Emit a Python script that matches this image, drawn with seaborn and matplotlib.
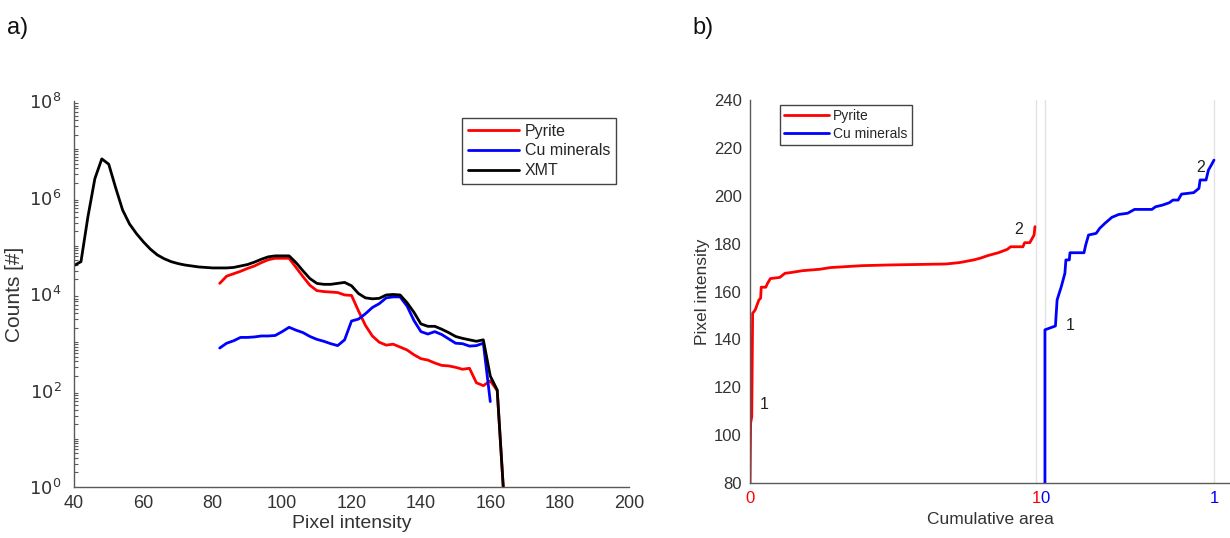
import numpy as np
import pandas as pd
import matplotlib
matplotlib.use("Agg")
import matplotlib.pyplot as plt
import seaborn as sns
from matplotlib.ticker import FixedLocator, NullFormatter

# ---------------- data (panel a) ----------------
xmt_intensity = [40, 42, 44, 46, 48, 50, 52, 54, 56, 58, 60, 62, 64, 66, 68, 70, 72, 74, 76, 78,
                 80, 82, 84, 86, 88, 90, 92, 94, 96, 98, 100, 102, 104, 106, 108, 110, 112, 114,
                 116, 118, 120, 122, 124, 126, 128, 130, 132, 134, 136, 138, 140, 142, 144, 146,
                 148, 150, 152, 154, 156, 158, 160, 162, 164]
xmt_log10 = [4.59, 4.67, 5.60, 6.39, 6.80, 6.69, 6.20, 5.74, 5.45, 5.25, 5.08, 4.93, 4.81, 4.73,
             4.67, 4.63, 4.60, 4.58, 4.56, 4.55, 4.54, 4.54, 4.54, 4.55, 4.58, 4.61, 4.66, 4.72,
             4.77, 4.79, 4.79, 4.79, 4.65, 4.48, 4.32, 4.22, 4.20, 4.20, 4.22, 4.24, 4.17, 4.01,
             3.92, 3.90, 3.91, 3.98, 3.99, 3.98, 3.82, 3.62, 3.38, 3.33, 3.33, 3.27, 3.20, 3.12,
             3.08, 3.05, 3.02, 3.05, 2.30, 2.01, -0.3]

pyrite_intensity = [82, 84, 86, 88, 90, 92, 94, 96, 98, 100, 102, 104, 106, 108, 110, 112, 114,
                    116, 118, 120, 122, 124, 126, 128, 130, 132, 134, 136, 138, 140, 142, 144,
                    146, 148, 150, 152, 154, 156, 158, 160, 162, 164]
pyrite_log10 = [4.22, 4.37, 4.42, 4.47, 4.53, 4.58, 4.65, 4.71, 4.74, 4.74, 4.74, 4.55, 4.36,
                4.18, 4.07, 4.05, 4.04, 4.03, 3.98, 3.97, 3.65, 3.35, 3.13, 3.00, 2.94, 2.96,
                2.90, 2.84, 2.74, 2.66, 2.63, 2.57, 2.52, 2.51, 2.48, 2.44, 2.46, 2.16, 2.10,
                2.20, 2.00, -0.3]

cu_intensity = [82, 84, 86, 88, 90, 92, 94, 96, 98, 100, 102, 104, 106, 108, 110, 112, 114, 116,
                118, 120, 122, 124, 126, 128, 130, 132, 134, 136, 138, 140, 142, 144, 146, 148,
                150, 152, 154, 156, 158, 160]
cu_log10 = [2.88, 2.98, 3.03, 3.10, 3.10, 3.11, 3.13, 3.13, 3.14, 3.22, 3.31, 3.25, 3.20, 3.12,
            3.06, 3.02, 2.97, 2.93, 3.05, 3.44, 3.48, 3.59, 3.72, 3.80, 3.92, 3.94, 3.94, 3.75,
            3.45, 3.22, 3.17, 3.22, 3.16, 3.07, 2.98, 2.97, 2.92, 2.93, 2.98, 1.77]

# ---------------- data (panel b) ----------------
pyrite_cum_area = [0.0, 0.002, 0.006, 0.009, 0.018, 0.031, 0.037, 0.039, 0.055, 0.061, 0.071,
                   0.104, 0.122, 0.147, 0.183, 0.244, 0.281, 0.391, 0.489, 0.685, 0.733, 0.782,
                   0.807, 0.831, 0.868, 0.899, 0.911, 0.954, 0.960, 0.978, 0.993, 0.996]
pyrite_cum_int = [80, 105, 107.8, 150.9, 152.3, 156.5, 157.2, 161.8, 161.8, 163.4, 165.4, 165.9,
                  167.6, 168.0, 168.7, 169.3, 170.0, 170.8, 171.1, 171.5, 172.1, 173.2, 174.0,
                  175.0, 176.2, 177.6, 178.7, 178.7, 180.4, 180.4, 183.6, 187.1]

cu_cum_area = [0.0, 0.0, 0.062, 0.072, 0.097, 0.118, 0.124, 0.144, 0.148, 0.231, 0.241, 0.258,
               0.303, 0.324, 0.355, 0.396, 0.437, 0.489, 0.530, 0.633, 0.654, 0.695, 0.736,
               0.757, 0.788, 0.808, 0.880, 0.911, 0.918, 0.953, 0.967, 0.984, 1.0]
cu_cum_int = [80, 144.0, 145.6, 156.5, 162.1, 167.6, 173.2, 173.2, 176.2, 176.2, 179.4, 183.6,
              184.3, 186.4, 188.5, 191.0, 192.2, 192.7, 194.3, 194.3, 195.4, 196.1, 197.1,
              198.2, 198.2, 200.7, 201.3, 203.1, 206.6, 206.6, 210.7, 212.8, 214.9]

labels_a = ["Pyrite", "Cu minerals", "XMT"]
labels_b = ["Pyrite", "Cu minerals"]

# ---------------- style ----------------
sns.set_theme(style="white")
plt.rcParams['font.family'] = ['Liberation Sans', 'DejaVu Sans']
AX_COL = "#5a5a5a"
TXT_COL = "#333333"
RED, BLUE, BLACK = "#ff0000", "#0000ff", "#000000"

fig = plt.figure(figsize=(12.30, 5.38), dpi=100)
ax1 = fig.add_axes([0.0602, 0.0948, 0.4512, 0.7175])
ax2 = fig.add_axes([0.6098, 0.1022, 0.3902, 0.7119])

# ---------------- panel a ----------------
df_p = pd.DataFrame({"x": pyrite_intensity, "y": np.power(10.0, pyrite_log10)})
df_c = pd.DataFrame({"x": cu_intensity, "y": np.power(10.0, cu_log10)})
df_x = pd.DataFrame({"x": xmt_intensity, "y": np.power(10.0, xmt_log10)})
lw = 2.0
sns.lineplot(data=df_p, x="x", y="y", ax=ax1, color=RED, lw=lw, label=labels_a[0],
             sort=False, estimator=None)
sns.lineplot(data=df_c, x="x", y="y", ax=ax1, color=BLUE, lw=lw, label=labels_a[1],
             sort=False, estimator=None)
sns.lineplot(data=df_x, x="x", y="y", ax=ax1, color=BLACK, lw=lw, label=labels_a[2],
             sort=False, estimator=None)
ax1.set_yscale("log")
ax1.set_xlim(40, 200)
ax1.set_ylim(1, 1e8)
ax1.set_xticks(np.arange(40, 201, 20))
ax1.yaxis.set_major_locator(FixedLocator([10.0 ** k for k in range(0, 9, 2)]))
ax1.set_yticklabels([r"$10^{%d}$" % k for k in range(0, 9, 2)])
minors = [m * 10.0 ** k for k in range(0, 8) for m in range(2, 10)] + [10.0 ** k for k in (1, 3, 5, 7)]
ax1.yaxis.set_minor_locator(FixedLocator(minors))
ax1.yaxis.set_minor_formatter(NullFormatter())
ax1.set_xlabel("Pixel intensity", fontsize=14, color=TXT_COL, labelpad=2)
ax1.set_ylabel("Counts [#]", fontsize=15, color=TXT_COL, labelpad=4)
ax1.tick_params(axis="both", which="major", direction="in", length=5, width=1,
                colors=AX_COL, labelcolor=TXT_COL, labelsize=13)
ax1.tick_params(axis="y", which="major", pad=9)
ax1.tick_params(axis="x", which="major", pad=6)
ax1.tick_params(axis="y", which="minor", direction="in", length=3, width=0.8, colors=AX_COL,
                left=True)
for s in ("top", "right"):
    ax1.spines[s].set_visible(False)
for s in ("left", "bottom"):
    ax1.spines[s].set_color(AX_COL)
    ax1.spines[s].set_linewidth(1.0)
leg1 = ax1.legend(loc="upper left", bbox_to_anchor=(0.699, 0.956), fontsize=11.5, frameon=True,
                  fancybox=False, edgecolor="#444444", framealpha=1, handlelength=3.2,
                  borderpad=0.35, labelspacing=0.3, handletextpad=0.4, borderaxespad=0)
leg1.get_frame().set_linewidth(1.0)

# ---------------- panel b ----------------
BLUE_OFFSET = 1.031
BLUE_SCALE = 0.591
df_pb = pd.DataFrame({"x": np.array(pyrite_cum_area), "y": pyrite_cum_int})
df_cb = pd.DataFrame({"x": BLUE_OFFSET + np.array(cu_cum_area) * BLUE_SCALE, "y": cu_cum_int})
for xv in (1.0, BLUE_OFFSET, BLUE_OFFSET + BLUE_SCALE):
    ax2.axvline(xv, color="#e2e2e2", lw=1.0, zorder=0)
sns.lineplot(data=df_pb, x="x", y="y", ax=ax2, color=RED, lw=lw, label=labels_b[0],
             sort=False, estimator=None)
sns.lineplot(data=df_cb, x="x", y="y", ax=ax2, color=BLUE, lw=lw, label=labels_b[1],
             sort=False, estimator=None)
ax2.set_xlim(0, 1.678)
ax2.set_ylim(80, 240)
ax2.set_yticks(np.arange(80, 241, 20))
xt = [0.0, 1.0, BLUE_OFFSET, BLUE_OFFSET + BLUE_SCALE]
ax2.set_xticks(xt)
ax2.set_xticklabels(["0", "1", "0", "1"])
ax2.set_xlabel("Cumulative area", fontsize=12.5, color=TXT_COL, labelpad=4)
ax2.set_ylabel("Pixel intensity", fontsize=12.5, color=TXT_COL, labelpad=3)
ax2.tick_params(axis="both", which="major", direction="in", length=4, width=1,
                colors=AX_COL, labelsize=12)
ax2.tick_params(axis="y", labelcolor=TXT_COL, pad=6)
ax2.tick_params(axis="x", pad=6)
for lab, c in zip(ax2.get_xticklabels(), [RED, RED, BLUE, BLUE]):
    lab.set_color(c)
for s in ("top", "right"):
    ax2.spines[s].set_visible(False)
for s in ("left", "bottom"):
    ax2.spines[s].set_color(AX_COL)
    ax2.spines[s].set_linewidth(1.0)
leg2 = ax2.legend(loc="upper left", bbox_to_anchor=(0.063, 0.987), fontsize=10, frameon=True,
                  fancybox=False, edgecolor="#444444", framealpha=1, handlelength=3.2,
                  borderpad=0.3, labelspacing=0.3, handletextpad=0.3, borderaxespad=0)
leg2.get_frame().set_linewidth(1.0)

ann_kw = dict(fontsize=11.5, color="#222222", ha="center", va="center")
ax2.text(0.049, 112.7, "1", **ann_kw)
ax2.text(0.939, 185.7, "2", **ann_kw)
ax2.text(BLUE_OFFSET + 0.148 * BLUE_SCALE, 146.0, "1", **ann_kw)
ax2.text(BLUE_OFFSET + 0.922 * BLUE_SCALE, 211.9, "2", **ann_kw)

fig.text(18 / 1230, 1 - 28 / 538, "a)", fontsize=17, color="#111111", ha="center", va="center")
fig.text(703 / 1230, 1 - 28 / 538, "b)", fontsize=17, color="#111111", ha="center", va="center")

fig.savefig("out.png", dpi=100)
